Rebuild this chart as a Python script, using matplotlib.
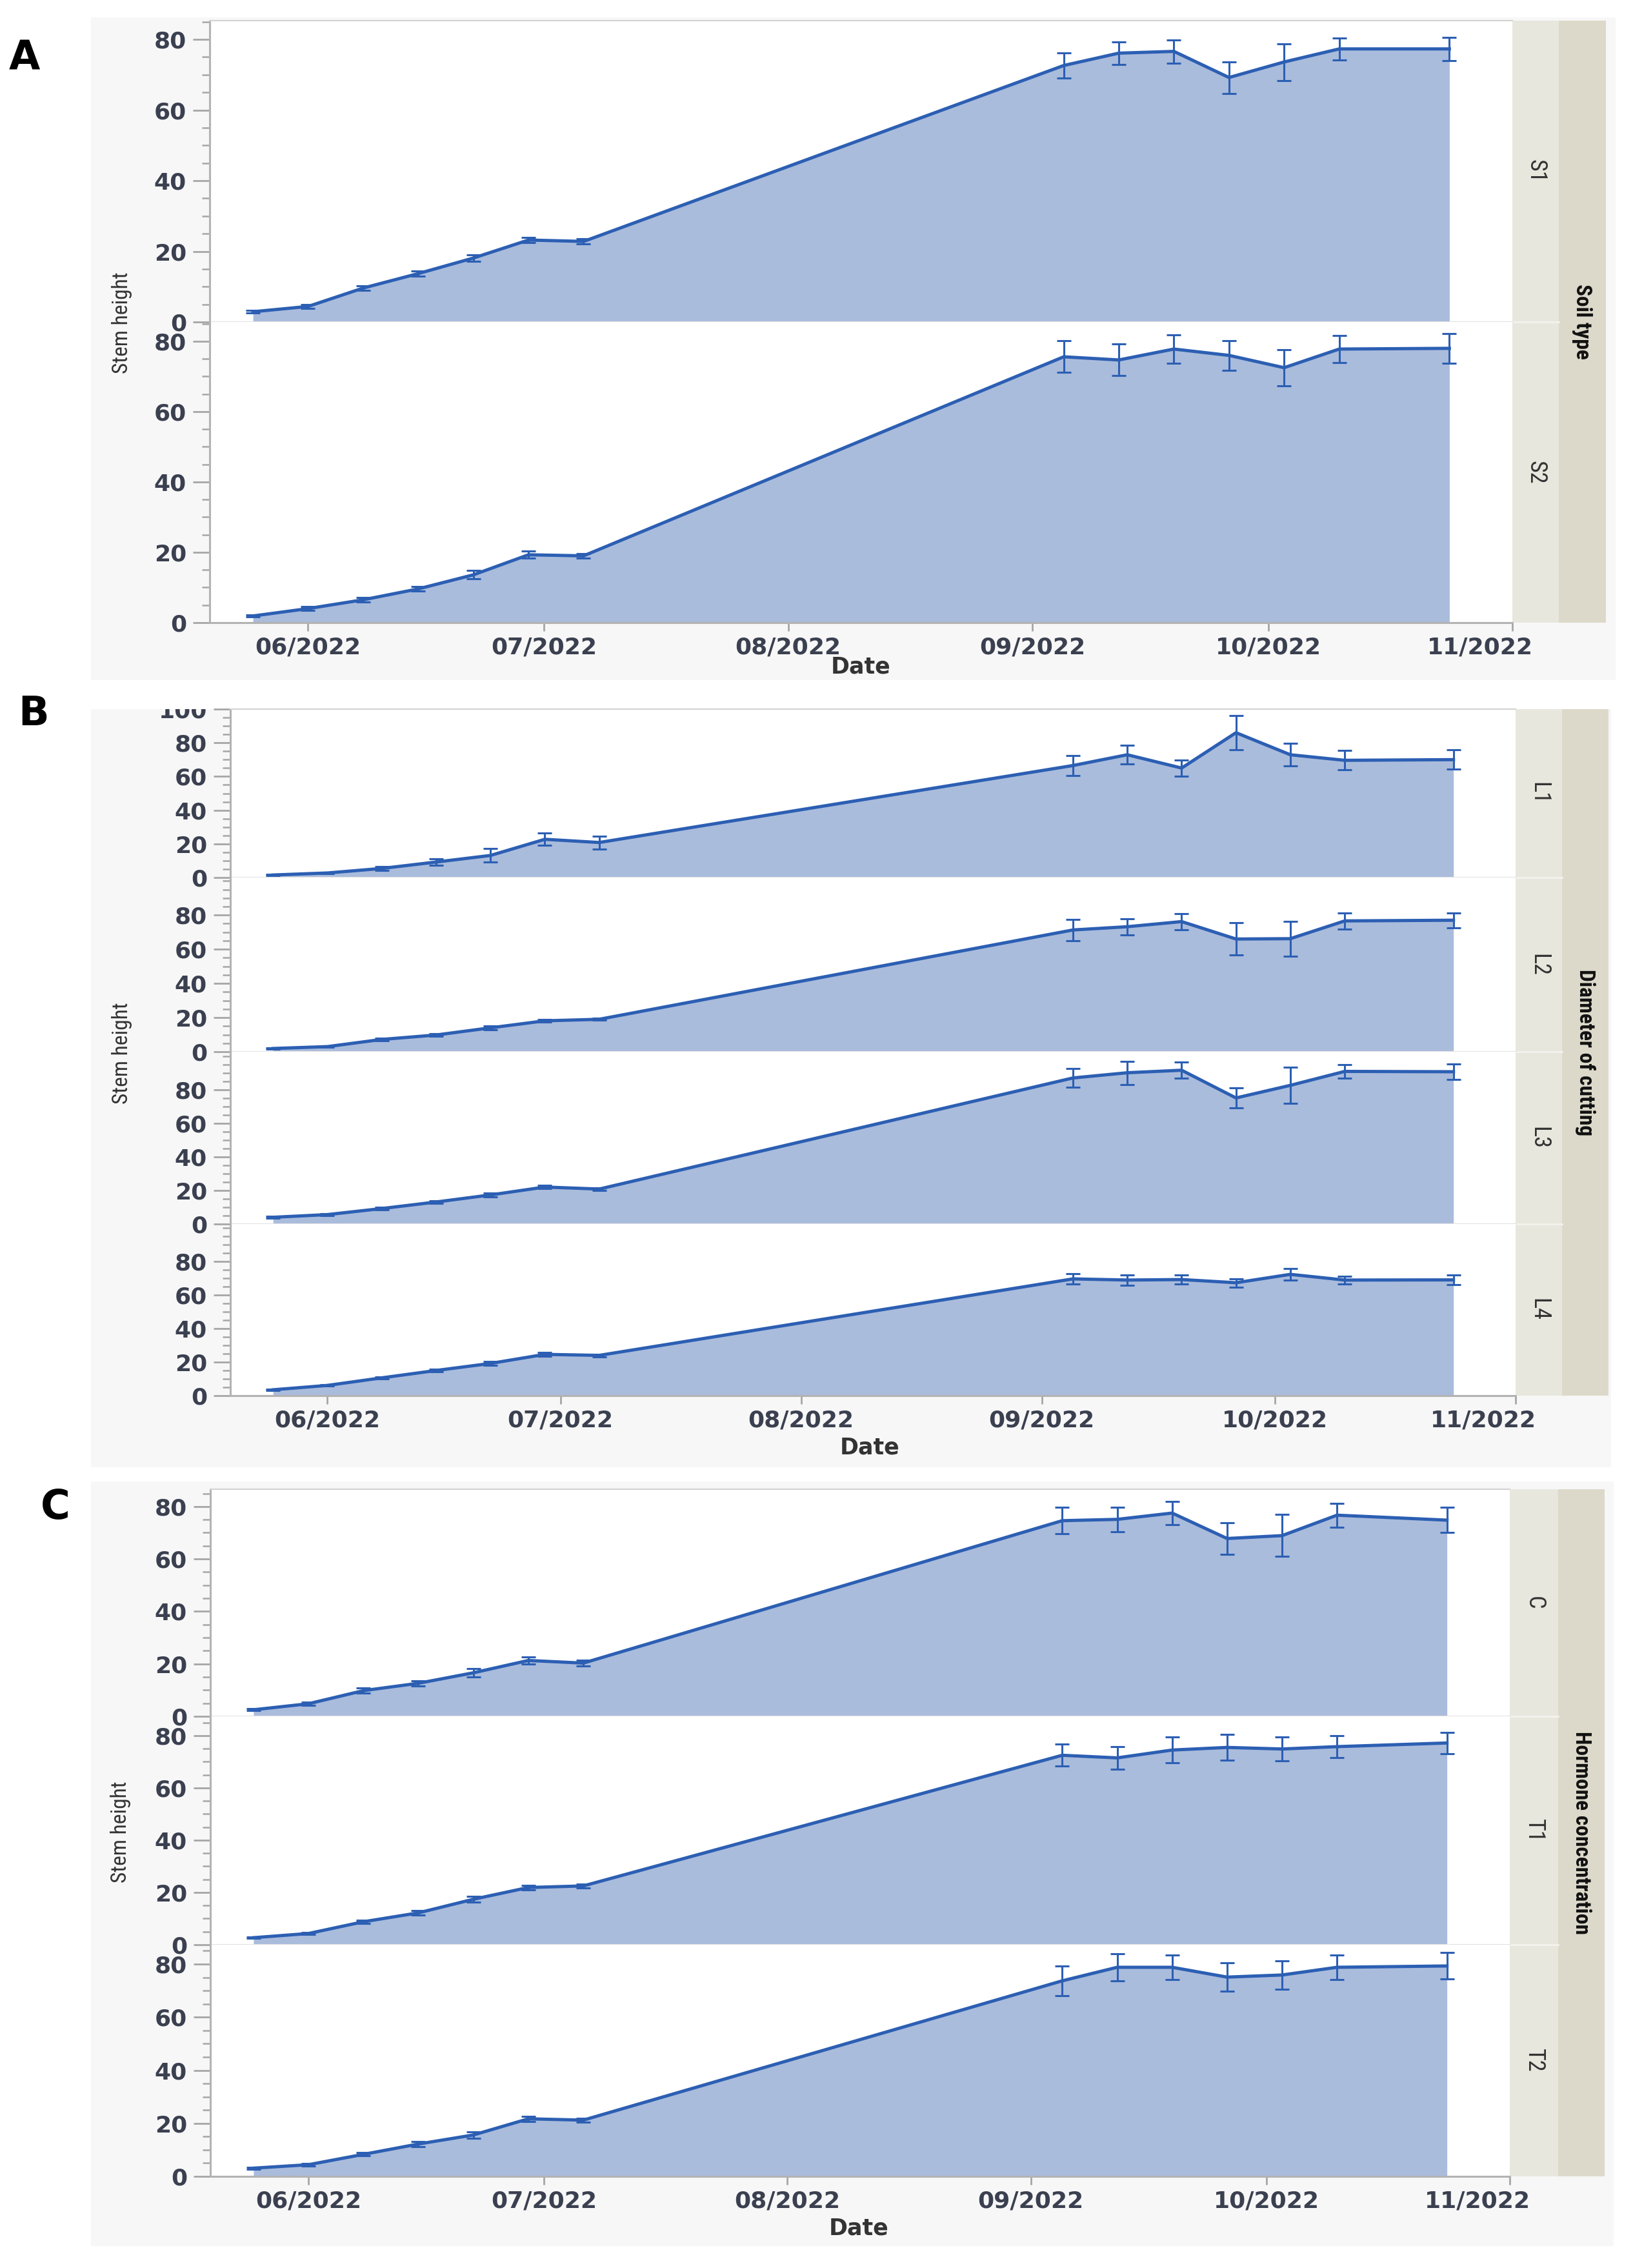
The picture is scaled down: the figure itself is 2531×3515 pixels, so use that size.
import datetime as dt
import matplotlib
matplotlib.use("Agg")
import matplotlib.pyplot as plt
import matplotlib.dates as mdates
from matplotlib import font_manager
from matplotlib.patches import Rectangle
from matplotlib.lines import Line2D
from matplotlib.ticker import MultipleLocator
from matplotlib.transforms import ScaledTranslation, Bbox, TransformedBbox

W, H, DPI = 2531, 3515, 100

# sampling dates (weekly, with the summer gap)
dates = [dt.datetime(2022, 5, 25), dt.datetime(2022, 6, 1), dt.datetime(2022, 6, 8),
         dt.datetime(2022, 6, 15), dt.datetime(2022, 6, 22), dt.datetime(2022, 6, 29),
         dt.datetime(2022, 7, 6), dt.datetime(2022, 9, 5), dt.datetime(2022, 9, 12),
         dt.datetime(2022, 9, 19), dt.datetime(2022, 9, 26), dt.datetime(2022, 10, 3),
         dt.datetime(2022, 10, 10), dt.datetime(2022, 10, 24)]
month_ticks = [dt.datetime(2022, m, 1) for m in range(6, 12)]

# A - soil type
s1_mean = [2.9, 4.4, 9.6, 13.7, 18.1, 23.2, 22.8, 72.6, 76.1, 76.6, 69.2, 73.6, 77.3, 77.3]
s1_err = [0.4, 0.5, 0.7, 0.8, 0.9, 0.8, 0.7, 3.6, 3.2, 3.3, 4.5, 5.2, 3.1, 3.3]
s2_mean = [1.9, 4.0, 6.5, 9.6, 13.6, 19.3, 19.0, 75.6, 74.7, 77.8, 76.0, 72.5, 77.8, 78.0]
s2_err = [0.3, 0.5, 0.7, 0.7, 1.2, 1.0, 0.7, 4.5, 4.5, 4.0, 4.2, 5.1, 3.8, 4.2]

# B - diameter of cutting
l1_mean = [1.5, 2.7, 5.4, 9.2, 13.1, 22.7, 20.8, 66.5, 72.9, 65.0, 86.0, 72.9, 69.6, 70.0]
l1_err = [0.3, 0.4, 1.0, 2.0, 4.0, 3.6, 3.9, 6.0, 5.5, 4.9, 10.3, 6.7, 5.7, 5.7]
l2_mean = [1.9, 3.0, 7.2, 9.8, 14.0, 18.1, 19.0, 71.3, 73.2, 76.2, 66.0, 66.2, 76.6, 77.0]
l2_err = [0.3, 0.4, 0.8, 0.9, 1.0, 0.7, 0.6, 6.2, 4.8, 4.8, 9.5, 10.3, 4.7, 4.4]
l3_mean = [4.0, 5.6, 9.2, 13.1, 17.3, 22.0, 20.8, 86.9, 90.0, 91.5, 75.0, 82.5, 90.8, 90.6]
l3_err = [0.5, 0.6, 0.7, 0.7, 1.0, 0.9, 0.8, 5.5, 6.9, 4.9, 6.0, 10.9, 4.2, 4.5]
l4_mean = [3.5, 6.1, 10.6, 15.0, 19.2, 24.6, 24.0, 69.6, 68.9, 69.2, 67.3, 72.3, 68.9, 69.0]
l4_err = [0.4, 0.5, 0.6, 0.8, 1.2, 1.0, 0.8, 3.0, 3.1, 2.7, 2.5, 3.4, 2.2, 3.0]

# C - hormone concentration
c_mean = [2.5, 4.8, 9.8, 12.6, 16.6, 21.3, 20.3, 74.6, 75.1, 77.5, 67.8, 68.9, 76.7, 74.8]
c_err = [0.4, 0.5, 1.0, 1.0, 1.5, 1.4, 1.2, 5.0, 4.7, 4.4, 6.0, 8.0, 4.6, 4.8]
t1_mean = [2.7, 4.3, 8.8, 12.2, 17.4, 21.9, 22.5, 72.5, 71.5, 74.5, 75.5, 74.9, 75.8, 77.2]
t1_err = [0.3, 0.4, 0.6, 0.8, 1.2, 0.9, 0.8, 4.2, 4.4, 4.9, 4.9, 4.6, 4.2, 4.1]
t2_mean = [3.1, 4.4, 8.3, 12.2, 15.6, 21.7, 21.2, 73.7, 78.8, 78.8, 75.1, 75.9, 78.8, 79.3]
t2_err = [0.4, 0.5, 0.6, 1.0, 1.2, 1.0, 0.8, 5.5, 5.0, 4.6, 5.3, 5.3, 4.6, 5.0]

soil_levels = ["S1", "S2"]
diam_levels = ["L1", "L2", "L3", "L4"]
horm_levels = ["C", "T1", "T2"]


def narrow_font():
    # the rotated labels in the original look condensed
    fonts = font_manager.fontManager.ttflist
    names = {f.name for f in fonts}
    for name in ("Liberation Sans Narrow", "Roboto Condensed", "Open Sans Condensed"):
        if name in names:
            return dict(family=[name, "DejaVu Sans"])
    for f in fonts:
        if "Narrow" in f.name or "Condensed" in f.name:
            return dict(family=[f.name, "DejaVu Sans"])
    for f in fonts:
        if f.name == "DejaVu Sans" and "condensed" in str(f.stretch):
            return dict(family=["DejaVu Sans"], fontstretch="condensed")
    return dict(family=["DejaVu Sans"])


NARROW = narrow_font()
plt.rcParams["font.family"] = ["DejaVu Sans"]
plt.rcParams["font.weight"] = "bold"

LINE = "#2c5fb3"
FILL = "#aabcdc"
TICKLAB = "#3b4050"
TICKCOL = "#a6a6a6"
SPINE = "#b3b3b3"
BACK = "#f7f7f7"
STRIP_IN = "#e8e7de"
STRIP_OUT = "#dcd9ca"
XMIN = dt.datetime(2022, 5, 19, 12)
XMAX = dt.datetime(2022, 11, 1)

fig = plt.figure(figsize=(W / DPI, H / DPI), dpi=DPI)
fig.patch.set_facecolor("white")


def fx(x):
    return x / W


def fy(y):
    return 1 - y / H


def rect(l, t, r, b, color, z):
    fig.add_artist(Rectangle((fx(l), fy(b)), fx(r - l), (b - t) / H, transform=fig.transFigure,
                             facecolor=color, edgecolor="none", zorder=z))


groups = [
    dict(letter="A", letter_xy=(38, 91), left=325, right=2344, rows=[32, 499, 965],
         series=[(s1_mean, s1_err), (s2_mean, s2_err)], levels=soil_levels,
         factor="Soil type", ymax=[85.3, 85.5], tops=[80, 80], strip=(2344, 2416, 2489),
         backdrop=(141, 27, 2504, 1054), date_xy=(1334, 1033), ylab_xy=(189, 500)),
    dict(letter="B", letter_xy=(52, 1107), left=357, right=2349,
         rows=[1099, 1360, 1630, 1897, 2163],
         series=[(l1_mean, l1_err), (l2_mean, l2_err), (l3_mean, l3_err), (l4_mean, l4_err)],
         levels=diam_levels, factor="Diameter of cutting", ymax=[99.6, 102.0, 102.5, 102.3],
         tops=[100, 80, 80, 80], strip=(2349, 2421, 2493), backdrop=(141, 1099, 2497, 2274),
         date_xy=(1348, 2243), ylab_xy=(189, 1632)),
    dict(letter="C", letter_xy=(86, 2337), left=326, right=2340, rows=[2308, 2660, 3014, 3373],
         series=[(c_mean, c_err), (t1_mean, t1_err), (t2_mean, t2_err)], levels=horm_levels,
         factor="Hormone concentration", ymax=[86.6, 87.4, 87.3], tops=[80, 80, 80],
         strip=(2340, 2415, 2487), backdrop=(141, 2296, 2501, 3481),
         date_xy=(1331, 3453), ylab_xy=(187, 2839)),
]

for g in groups:
    bl, bt, br, bb = g["backdrop"]
    rect(bl, bt, br, bb, BACK, -10)
    rows = g["rows"]
    s0, s1, s2 = g["strip"]
    rect(s0, rows[0], s1, rows[-1], STRIP_IN, -5)
    rect(s1, rows[0], s2, rows[-1], STRIP_OUT, -5)
    n = len(g["series"])
    for i, ((mean, err), level) in enumerate(zip(g["series"], g["levels"])):
        top, bot = rows[i], rows[i + 1]
        ax = fig.add_axes([fx(g["left"]), fy(bot), fx(g["right"] - g["left"]), (bot - top) / H])
        ax.set_facecolor("white")
        ax.fill_between(dates, 0, mean, color=FILL, lw=0, zorder=1)
        ax.errorbar(dates, mean, yerr=err, color=LINE, lw=3.6, elinewidth=2.2,
                    capsize=8, capthick=2.2, zorder=3)
        ax.set_xlim(XMIN, XMAX)
        ax.set_ylim(0, g["ymax"][i])
        ax.set_yticks(range(0, g["tops"][i] + 1, 20))
        ax.yaxis.set_minor_locator(MultipleLocator(5))
        ax.tick_params(axis="y", which="major", length=19, width=2, color=TICKCOL,
                       labelsize=26, labelcolor=TICKLAB, pad=7)
        ax.tick_params(axis="y", which="minor", length=8.5, width=1.8, color=TICKCOL)
        if g["tops"][i] == 100:
            # the top label is cut by the upper edge of the frame
            keep = TransformedBbox(Bbox([[0, 0], [1, fy(top)]]), fig.transFigure)
            for lbl in ax.get_yticklabels():
                lbl.set_clip_on(True)
                lbl.set_clip_box(keep)
        for sp in ("left", "bottom"):
            ax.spines[sp].set_color(SPINE)
            ax.spines[sp].set_linewidth(2.2)
        ax.spines["right"].set_visible(False)
        if i == 0:
            ax.spines["top"].set_color("#d2d2d2")
            ax.spines["top"].set_linewidth(1.5)
        else:
            ax.spines["top"].set_visible(False)
        ax.set_xticks(month_ticks)
        ax.xaxis.set_major_formatter(mdates.DateFormatter("%m/%Y"))
        if i == n - 1:
            ax.tick_params(axis="x", length=9.5, width=2, color=TICKCOL, labelsize=26,
                           labelcolor=TICKLAB, pad=6)
            last = ax.xaxis.get_major_ticks()[-1]
            last.label1.set_transform(last.label1.get_transform()
                                      + ScaledTranslation(-0.5, 0, fig.dpi_scale_trans))
        else:
            ax.spines["bottom"].set_color("#e2e2e2")
            ax.spines["bottom"].set_linewidth(1.5)
            ax.tick_params(axis="x", which="both", bottom=False, labelbottom=False)
            fig.add_artist(Line2D([fx(s0), fx(s1)], [fy(bot), fy(bot)], color="#f3f2ec",
                                  lw=2, transform=fig.transFigure, zorder=-4))
        fig.text(fx((s0 + s1) / 2), fy((top + bot) / 2), level, rotation=270,
                 ha="center", va="center", fontsize=26, fontweight="normal",
                 color="#333333", **NARROW)
    fig.text(fx((s1 + s2) / 2), fy((rows[0] + rows[-1]) / 2), g["factor"], rotation=270,
             ha="center", va="center", fontsize=24, fontweight="bold",
             color="#111111", **NARROW)
    fig.text(fx(g["date_xy"][0]), fy(g["date_xy"][1]), "Date", ha="center", va="center",
             fontsize=25, fontweight="bold", color="#333333")
    fig.text(fx(g["ylab_xy"][0]), fy(g["ylab_xy"][1]), "Stem height", rotation=90,
             ha="center", va="center", fontsize=24, fontweight="normal",
             color="#333333", **NARROW)
    fig.text(fx(g["letter_xy"][0]), fy(g["letter_xy"][1]), g["letter"], ha="center",
             va="center", fontsize=45, fontweight="bold", color="#000000")

# white above the B frame, so the cut "100" shows as in the original
rect(141, 1056, 365, 1098, "white", 5)

fig.savefig("out.png", dpi=DPI, facecolor="white")
